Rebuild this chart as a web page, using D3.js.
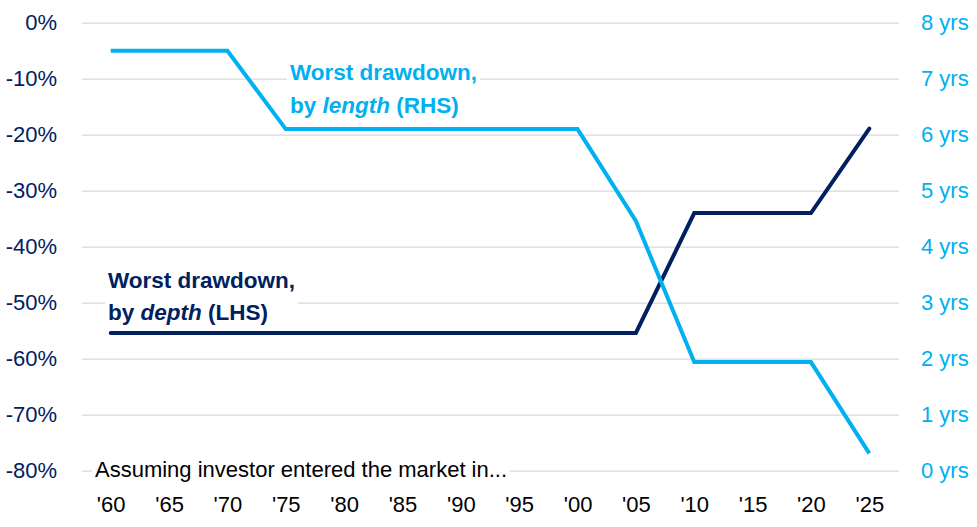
<!DOCTYPE html>
<html>
<head>
<meta charset="utf-8">
<script src="https://cdn.jsdelivr.net/npm/d3@7"></script>
<style>
  html, body { margin: 0; padding: 0; background: #fff; }
  svg { display: block; font-family: "Liberation Sans", Arial, sans-serif; }
</style>
</head>
<body>
<svg id="chart" width="977" height="527"></svg>
<script>
// ---- data ----
const years = [1960, 1965, 1970, 1975, 1980, 1985, 1990, 1995, 2000, 2005, 2010, 2015, 2020, 2025];
const yearLabels = ["'60", "'65", "'70", "'75", "'80", "'85", "'90", "'95", "'00", "'05", "'10", "'15", "'20", "'25"];
const depthValues = [-55.4, -55.4, -55.4, -55.4, -55.4, -55.4, -55.4, -55.4, -55.4, -55.4, -34.0, -34.0, -34.0, -18.9];
const lengthValues = [7.5, 7.5, 7.5, 6.1, 6.1, 6.1, 6.1, 6.1, 6.1, 4.46, 1.94, 1.94, 1.94, 0.31];
const leftTicks = [0, -10, -20, -30, -40, -50, -60, -70, -80];
const rightTicks = [0, 1, 2, 3, 4, 5, 6, 7, 8];

const NAVY = "#002060";
const LIGHT = "#00B0F0";
const FS = "22px";

const svg = d3.select("#chart");

const x = d3.scaleLinear().domain([1960, 2025]).range([110.7, 869.3]);
const yL = d3.scaleLinear().domain([-80, 0]).range([470.7, 22.7]);
const yR = d3.scaleLinear().domain([0, 8]).range([470.7, 22.7]);

// gridlines
const gridX1 = 82, gridX2 = 899;
svg.append("g")
  .attr("transform", `translate(${gridX1},0)`)
  .call(d3.axisRight(yL).tickValues(leftTicks).tickSize(gridX2 - gridX1).tickFormat(""))
  .call(g => g.select(".domain").remove())
  .call(g => g.selectAll("line").attr("stroke", "#d9d9d9").attr("stroke-width", 1.2));

// left axis labels
svg.append("g")
  .attr("transform", "translate(57,0)")
  .call(d3.axisLeft(yL).tickValues(leftTicks).tickSize(0).tickPadding(0).tickFormat(d => d + "%"))
  .call(g => g.select(".domain").remove())
  .call(g => g.selectAll("text").attr("fill", NAVY).style("font-size", FS)
      .attr("font-family", "Liberation Sans, Arial, sans-serif"));

// right axis labels
svg.append("g")
  .attr("transform", "translate(921,0)")
  .call(d3.axisRight(yR).tickValues(rightTicks).tickSize(0).tickPadding(0).tickFormat(d => d + " yrs"))
  .call(g => g.select(".domain").remove())
  .call(g => g.selectAll("text").attr("fill", LIGHT).style("font-size", FS)
      .attr("font-family", "Liberation Sans, Arial, sans-serif"));

// x axis labels
svg.append("g")
  .attr("transform", "translate(0,496)")
  .call(d3.axisBottom(x).tickValues(years).tickSize(0).tickPadding(0).tickFormat((d, i) => yearLabels[i]))
  .call(g => g.select(".domain").remove())
  .call(g => g.selectAll("text").attr("fill", "#000").style("font-size", FS)
      .attr("font-family", "Liberation Sans, Arial, sans-serif"));

// annotation helper
function note(xp, yBase, lines, color, lh) {
  const g = svg.append("g");
  const rect = g.append("rect").attr("fill", "#fff");
  const t = g.append("text").attr("fill", color).style("font-size", "22.5px").style("font-weight", "bold");
  lines.forEach((parts, i) => {
    const ts = t.append("tspan").attr("x", xp).attr("y", yBase + i * lh);
    parts.forEach(p => {
      ts.append("tspan").text(p.t).style("font-style", p.i ? "italic" : "normal");
    });
  });
  const bb = t.node().getBBox();
  rect.attr("x", bb.x - 3).attr("y", bb.y).attr("width", bb.width + 6).attr("height", bb.height);
  return g;
}

// bottom note
const bottom = svg.append("g");
const bRect = bottom.append("rect").attr("fill", "#fff");
const bText = bottom.append("text").attr("x", 95).attr("y", 477).attr("fill", "#000")
  .style("font-size", FS).text("Assuming investor entered the market in...");
const bbb = bText.node().getBBox();
bRect.attr("x", bbb.x - 3).attr("y", bbb.y).attr("width", bbb.width + 6).attr("height", bbb.height);

// annotations
note(108, 288, [[{t: "Worst drawdown,"}], [{t: "by "}, {t: "depth", i: true}, {t: " (LHS)"}]], NAVY, 32);
note(290, 80, [[{t: "Worst drawdown,"}], [{t: "by "}, {t: "length", i: true}, {t: " (RHS)"}]], LIGHT, 33);

// lines
const depthLine = d3.line().x((d, i) => x(years[i])).y(d => yL(d));
const lengthLine = d3.line().x((d, i) => x(years[i])).y(d => yR(d));

svg.append("path").datum(depthValues)
  .attr("d", depthLine).attr("fill", "none").attr("stroke", NAVY)
  .attr("stroke-width", 4).attr("stroke-linecap", "round").attr("stroke-linejoin", "miter");

svg.append("path").datum(lengthValues)
  .attr("d", lengthLine).attr("fill", "none").attr("stroke", LIGHT)
  .attr("stroke-width", 4).attr("stroke-linecap", "butt").attr("stroke-linejoin", "miter");
</script>
</body>
</html>
